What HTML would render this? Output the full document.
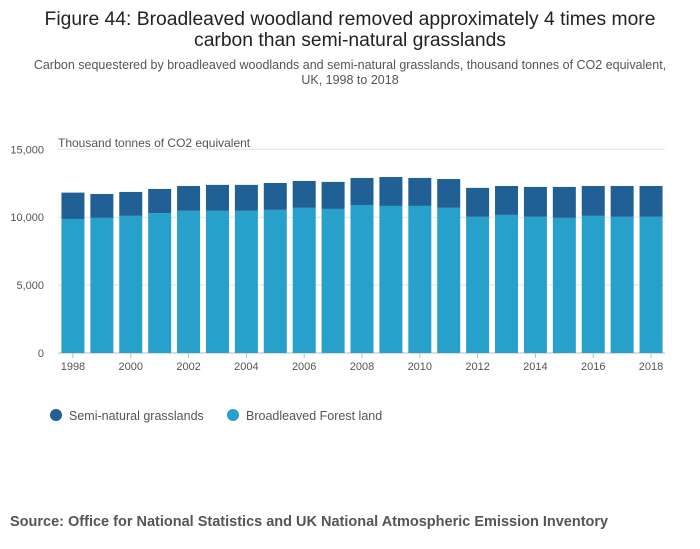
<!DOCTYPE html>
<html><head><meta charset="utf-8"><style>
body{margin:0;background:#fff;font-family:"Liberation Sans",sans-serif;}
#w{position:relative;width:700px;height:549px;overflow:hidden}
</style></head><body>
<div id="w">
<svg id="s" width="700" height="549">
<text x="350" y="25" text-anchor="middle" font-size="19.3" fill="#222">Figure 44: Broadleaved woodland removed approximately 4 times more</text>
<text x="350" y="46" text-anchor="middle" font-size="19.3" fill="#222">carbon than semi-natural grasslands</text>
<text x="350" y="69" text-anchor="middle" font-size="12.5" fill="#555">Carbon sequestered by broadleaved woodlands and semi-natural grasslands, thousand tonnes of CO2 equivalent,</text>
<text x="350" y="84" text-anchor="middle" font-size="12.5" fill="#555">UK, 1998 to 2018</text>
<text x="58" y="147" font-size="12" fill="#555">Thousand tonnes of CO2 equivalent</text>
<g id="grid"></g><g id="bars"></g><g id="xt"></g>
<circle cx="56" cy="415" r="6" fill="#206095"/>
<text x="69" y="420" font-size="12.5" fill="#555">Semi-natural grasslands</text>
<circle cx="233" cy="415" r="6" fill="#27a0cc"/>
<text x="246" y="420" font-size="12.5" fill="#555">Broadleaved Forest land</text>
<text x="10" y="526" font-size="14.5" font-weight="bold" fill="#555">Source: Office for National Statistics and UK National Atmospheric Emission Inventory</text>
</svg></div>
<script>
const years=[1998,1999,2000,2001,2002,2003,2004,2005,2006,2007,2008,2009,2010,2011,2012,2013,2014,2015,2016,2017,2018];
const forest=[9870,9950,10100,10300,10470,10470,10470,10540,10690,10610,10900,10830,10830,10690,10030,10170,10030,9950,10100,10030,10030];
const totals=[11810,11710,11860,12080,12300,12380,12380,12520,12670,12600,12890,12960,12890,12810,12160,12300,12230,12230,12300,12300,12300];
const grass=totals.map((t,i)=>t-forest[i]);
const yTicks=[0,5000,10000,15000];
const yTickLabels=["0","5,000","10,000","15,000"];
const NS="http://www.w3.org/2000/svg";
const X0=58,X1=665,Y0=353,YMAX=15000,Y15=149.3;
const band=(X1-X0)/years.length;
const y=v=>Y0-(Y0-Y15)*v/YMAX;
const x=i=>X0+band*i+(band-23)/2+0.5;
function mk(t,a,p){const e=document.createElementNS(NS,t);for(const k in a)e.setAttribute(k,a[k]);p.appendChild(e);return e;}
const g=document.getElementById('grid');
yTicks.forEach((v,i)=>{
 const l=mk('line',{x1:X0,x2:X1,y1:y(v),y2:y(v),stroke:v===0?'#bbb':'#e2e2e2','stroke-width':1},g);
 
 
 const t=mk('text',{x:44,y:y(v)+4,'text-anchor':'end','font-size':11,fill:'#555'},g);
 t.textContent=yTickLabels[i];
 
 
});
const b=document.getElementById('bars');
years.forEach((yr,i)=>{
 const r1=mk('rect',{x:x(i),width:23,y:y(forest[i]),height:Y0-y(forest[i]),fill:'#27a0cc'},b);
 
 
 const r2=mk('rect',{x:x(i),width:23,y:y(forest[i]+grass[i]),height:y(forest[i])-y(forest[i]+grass[i]),fill:'#206095'},b);
 
 
});
const xt=document.getElementById('xt');
years.forEach((yr,i)=>{
 if(i%2)return;
 const c=x(i)+11.5;
 const tk=mk('line',{x1:c,x2:c,y1:Y0,y2:Y0+5,stroke:'#bbb'},xt);
 
 
 const t=mk('text',{x:c,y:Y0+17,'text-anchor':'middle','font-size':11,fill:'#555'},xt);
 t.textContent=yr;
 
 
});
</script>
</body></html>
